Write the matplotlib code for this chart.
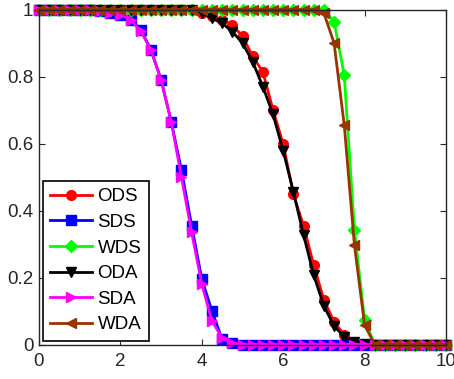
import matplotlib
matplotlib.use("Agg")
import matplotlib.pyplot as plt

plt.rcParams['font.family'] = ['Liberation Sans', 'DejaVu Sans']

x = [0, 0.25, 0.5, 0.75, 1, 1.25, 1.5, 1.75, 2, 2.25, 2.5, 2.75, 3, 3.25, 3.5, 3.75,
     4, 4.25, 4.5, 4.75, 5, 5.25, 5.5, 5.75, 6, 6.25, 6.5, 6.75, 7, 7.25, 7.5, 7.75,
     8, 8.25, 8.5, 8.75, 9, 9.25, 9.5, 9.75, 10]

ods = [1] * 16 + [0.99, 0.98, 0.97, 0.954, 0.92, 0.86, 0.814, 0.70, 0.598, 0.449,
                  0.354, 0.237, 0.133, 0.068, 0.028, 0.008, 0.002] + [0] * 8
sds = [1] * 6 + [0.995, 0.99, 0.985, 0.97, 0.94, 0.88, 0.79, 0.665, 0.52, 0.355,
                 0.195, 0.10, 0.015, 0.003] + [0] * 21
wds = [1] * 29 + [0.964, 0.804, 0.342, 0.073] + [0] * 8
oda = [1] * 16 + [0.99, 0.974, 0.959, 0.934, 0.90, 0.844, 0.77, 0.687, 0.578, 0.456,
                  0.327, 0.207, 0.115, 0.055, 0.023, 0.007, 0.001] + [0] * 8
sda = [1] * 6 + [0.995, 0.99, 0.985, 0.97, 0.935, 0.88, 0.79, 0.665, 0.50, 0.335,
                 0.18, 0.07, 0.02, 0.003] + [0] * 21
wda = [1] * 28 + [0.989, 0.90, 0.655, 0.297, 0.058] + [0] * 8

names = ['ODS', 'SDS', 'WDS', 'ODA', 'SDA', 'WDA']
series = [ods, sds, wds, oda, sda, wda]
colors = ['#ff0000', '#0000ff', '#00ff00', '#000000', '#ff00ff', '#993300']
markers = ['o', 's', 'D', 'v', '>', '<']
sizes = [7, 6.5, 6, 7.5, 7.5, 7.5]

fig = plt.figure(figsize=(4.54, 3.79), dpi=100)
ax = fig.add_axes([39 / 454, 34.5 / 379, 407 / 454, 335 / 379])

for name, y, c, m, s in zip(names, series, colors, markers, sizes):
    ax.plot(x, y, color=c, marker=m, markersize=s, markerfacecolor=c,
            markeredgecolor=c, linewidth=2, label=name, clip_on=False)

ax.set_xlim(0, 10)
ax.set_ylim(0, 1)
ax.set_xticks([0, 2, 4, 6, 8, 10])
ax.set_yticks([0, 0.2, 0.4, 0.6, 0.8, 1])
ax.set_xticklabels(['0', '2', '4', '6', '8', '10'])
ax.set_yticklabels(['0', '0.2', '0.4', '0.6', '0.8', '1'])
ax.tick_params(direction='in', top=True, right=True, length=4, labelsize=13.5,
               colors='#262626', pad=4)
ax.tick_params(axis='x', pad=6)
for sp in ax.spines.values():
    sp.set_linewidth(1)
    sp.set_color('#262626')

leg = ax.legend(loc='lower left', fontsize=13.5, handlelength=2.25, handletextpad=0.27,
                labelspacing=0.45, borderpad=0.4, borderaxespad=0.2, fancybox=False,
                framealpha=1, edgecolor='black')
leg.get_frame().set_linewidth(1.2)

fig.savefig('out.png', dpi=100)
